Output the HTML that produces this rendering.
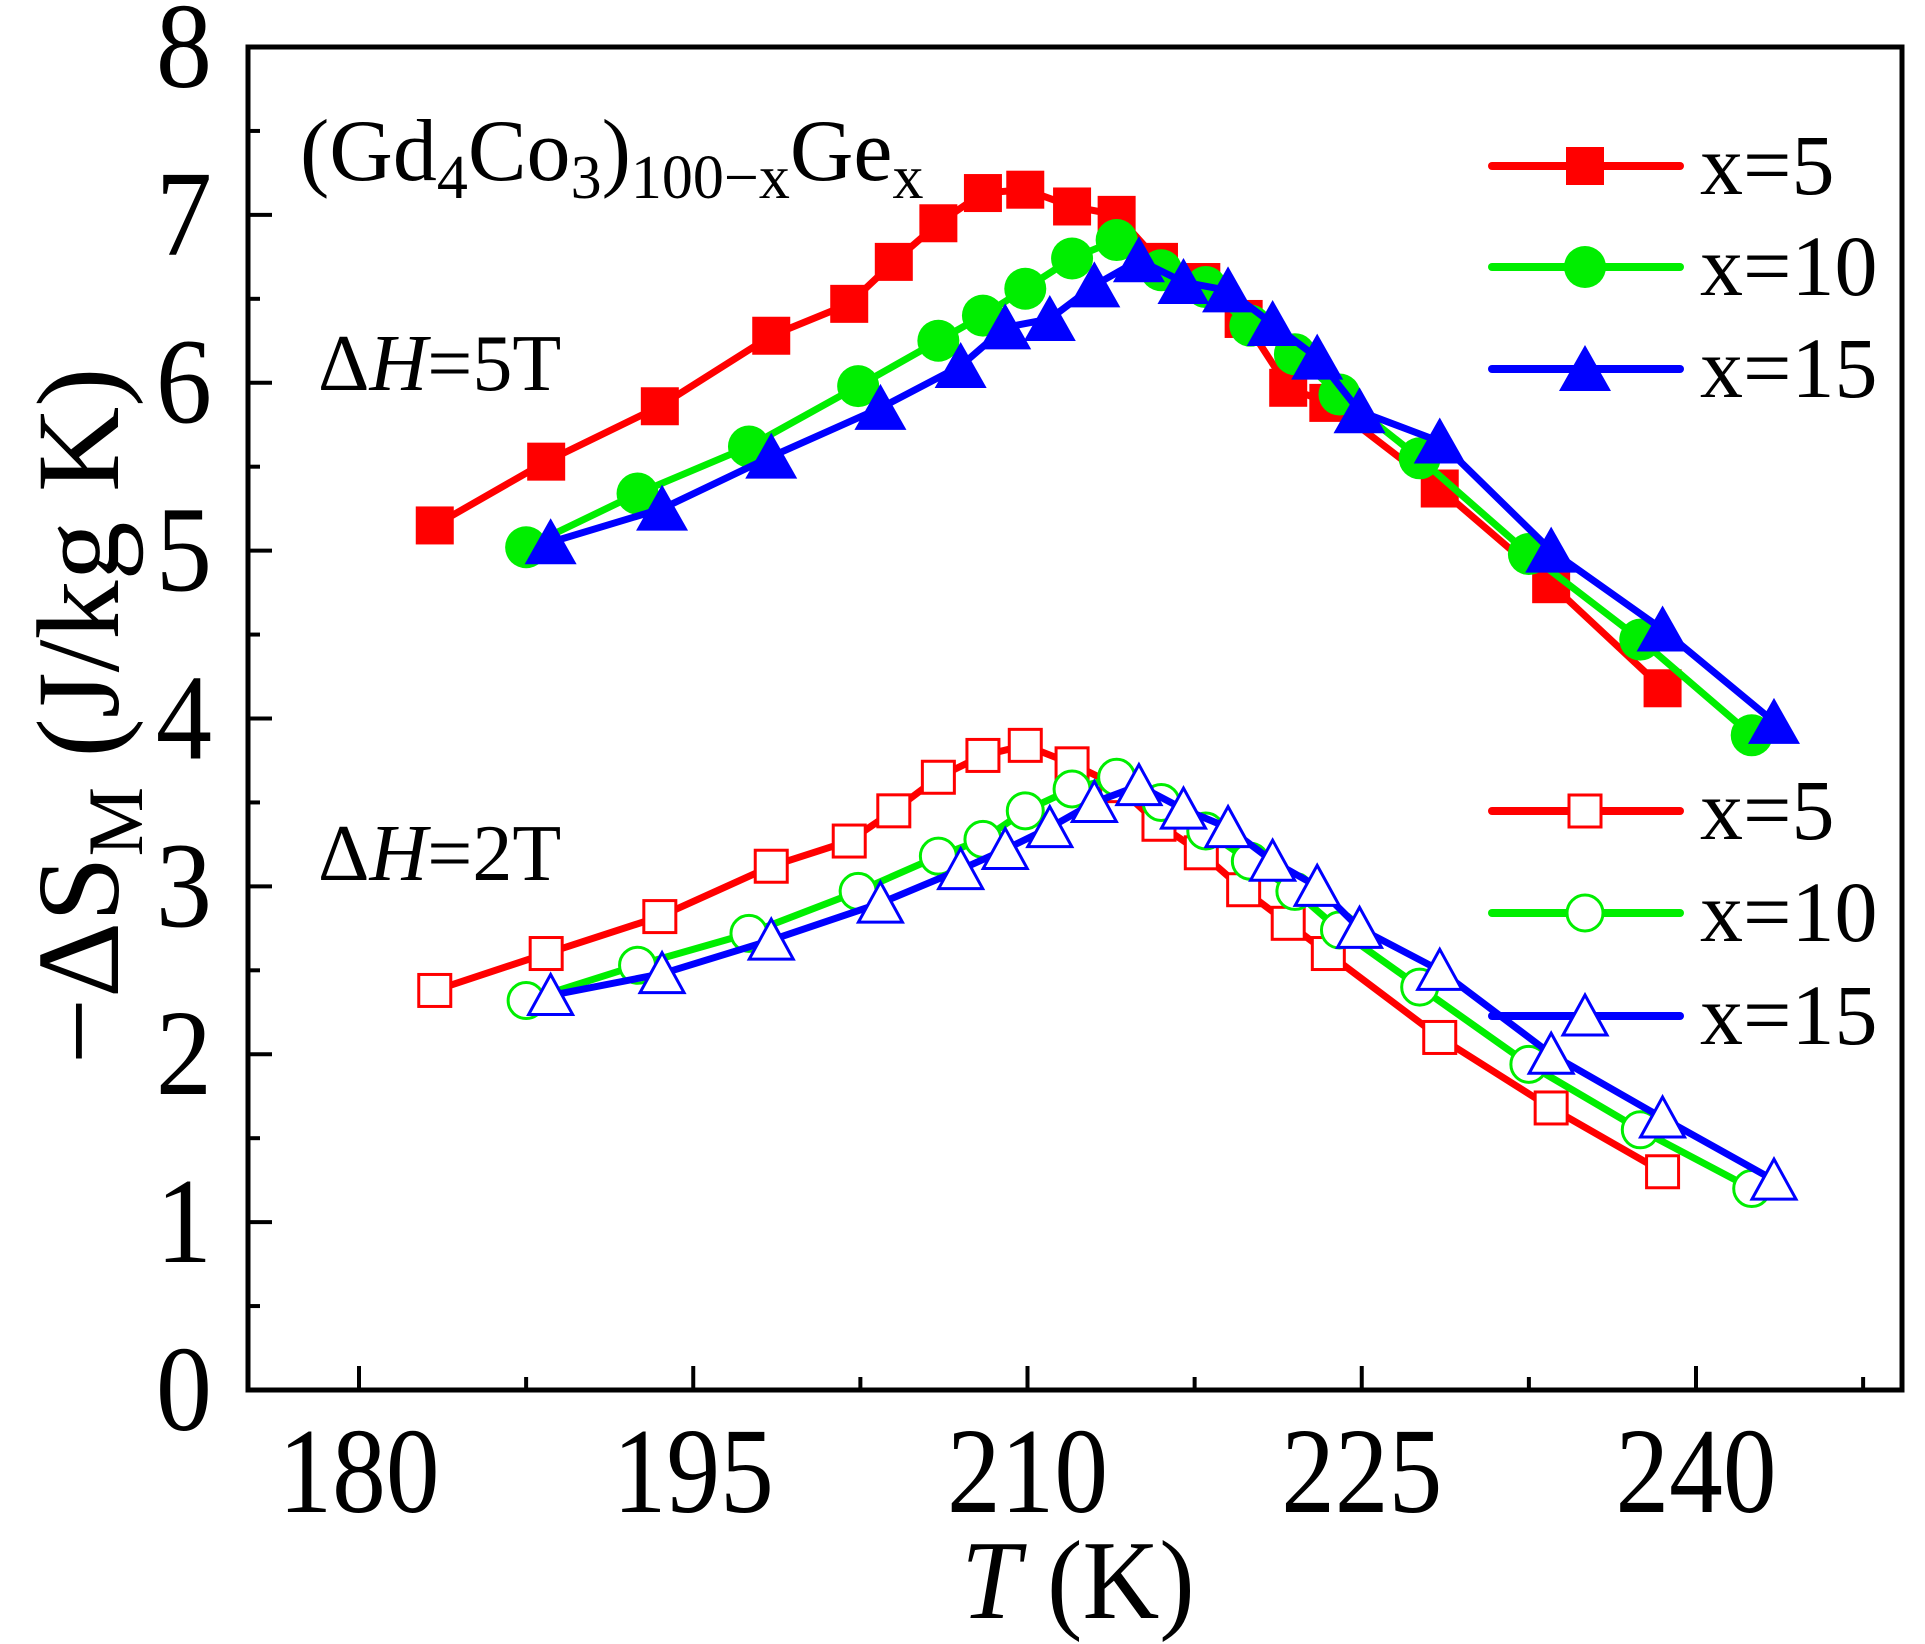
<!DOCTYPE html>
<html><head><meta charset="utf-8"><style>
html,body{margin:0;padding:0;background:#fff}
svg{display:block;font-family:"Liberation Serif","DejaVu Serif",serif}
</style></head><body>
<svg id="chart" width="1925" height="1644" viewBox="0 0 1925 1644" xmlns="http://www.w3.org/2000/svg">
<g id="axes"></g>
<g id="series"></g>
<g id="legend"></g>
<text x="300" y="180" font-size="88">(Gd<tspan font-size="62" dy="18">4</tspan><tspan dy="-18">Co</tspan><tspan font-size="62" dy="18">3</tspan><tspan dy="-18">)</tspan><tspan font-size="62" dy="18">100−x</tspan><tspan dy="-18">Ge</tspan><tspan font-size="62" dy="18">x</tspan></text>
<text x="318" y="390" font-size="80">Δ<tspan font-style="italic">H</tspan>=5T</text>
<text x="318" y="880" font-size="80">Δ<tspan font-style="italic">H</tspan>=2T</text>
<text x="1078" y="1618" font-size="112" text-anchor="middle" transform="translate(1078 0) scale(0.95 1) translate(-1078 0)"><tspan font-style="italic">T</tspan> (K)</text>
<text transform="translate(118 716) rotate(-90)" font-size="118" text-anchor="middle">−ΔS<tspan font-size="78" dy="24">M</tspan><tspan dy="-24"> (J/kg K)</tspan></text>
</svg>
<script>
const tempsA = [183.4,188.4,193.5,198.5,202,204,206,208,209.9,212,214,215.9,217.8,219.7,221.7,223.5,228.5,233.5,238.5];
const tempsB = [187.5,192.5,197.5,202.4,206,208,209.9,212,214,216,218,220,222,224,227.6,232.5,237.5,242.5];
const tempsC = [188.6,193.6,198.5,203.4,207,209,211,213,215,217,219,221,223,224.9,228.5,233.5,238.5,243.5];
const x5_5T = [5.15,5.53,5.86,6.28,6.47,6.72,6.95,7.13,7.15,7.05,7.0,6.72,6.6,6.38,5.97,5.88,5.37,4.8,4.18];
const x10_5T = [5.02,5.34,5.62,5.98,6.25,6.4,6.56,6.74,6.85,6.67,6.57,6.34,6.17,5.93,5.55,4.98,4.47,3.9];
const x15_5T = [5.05,5.25,5.56,5.85,6.1,6.33,6.38,6.58,6.73,6.6,6.55,6.35,6.15,5.83,5.65,5.0,4.53,3.98];
const x5_2T = [2.38,2.6,2.82,3.12,3.27,3.45,3.65,3.78,3.84,3.73,3.6,3.37,3.2,2.98,2.78,2.6,2.1,1.68,1.3];
const x10_2T = [2.32,2.53,2.72,2.97,3.18,3.28,3.45,3.58,3.65,3.5,3.33,3.15,2.97,2.74,2.4,1.94,1.55,1.2];
const x15_2T = [2.35,2.48,2.68,2.9,3.1,3.22,3.35,3.5,3.6,3.46,3.35,3.15,3.0,2.75,2.5,2.0,1.62,1.25];
const xTicks = [180,195,210,225,240];
const xMinor = [187.5,202.5,217.5,232.5,247.5];
const yTicks = [0,1,2,3,4,5,6,7,8];
const yMinor = [0.5,1.5,2.5,3.5,4.5,5.5,6.5,7.5];
const legendLabels = ["x=5","x=10","x=15","x=5","x=10","x=15"];

const NS="http://www.w3.org/2000/svg";
const L=248,R=1902,T=47,B=1390;
function X(t){return 359+(t-180)*(1696-359)/60;}
function Y(v){return B-(v)*(B-T)/8;}
function mk(tag,attrs,parent){const e=document.createElementNS(NS,tag);for(const k in attrs)e.setAttribute(k,attrs[k]);parent.appendChild(e);return e;}
const axes=document.getElementById('axes'),ser=document.getElementById('series'),leg=document.getElementById('legend');

const frame=mk('rect',{x:L,y:T,width:R-L,height:B-T,fill:'none',stroke:'#000','stroke-width':5},axes);


xTicks.forEach(t=>{
  const tk=mk('line',{x1:X(t),x2:X(t),y1:B,y2:B-24,stroke:'#000','stroke-width':4},axes);
  
  
  const lb=mk('text',{x:X(t),y:1512,'font-size':122,'text-anchor':'middle',transform:`translate(${X(t)} 0) scale(0.88 1) translate(${-X(t)} 0)`},axes);
  lb.textContent=t;
  
  
});
xMinor.forEach(t=>{
  const tk=mk('line',{x1:X(t),x2:X(t),y1:B,y2:B-13,stroke:'#000','stroke-width':4},axes);
  
  
});
yTicks.forEach(v=>{
  const tk=mk('line',{x1:L,x2:L+24,y1:Y(v),y2:Y(v),stroke:'#000','stroke-width':4},axes);
  
  
  const lb=mk('text',{x:212,y:Y(v)+40,'font-size':122,'text-anchor':'end',transform:`translate(212 0) scale(0.92 1) translate(-212 0)`},axes);
  lb.textContent=v;
  
  
});
yMinor.forEach(v=>{
  const tk=mk('line',{x1:L,x2:L+12,y1:Y(v),y2:Y(v),stroke:'#000','stroke-width':4},axes);
  
  
});

function marker(shape,cx,cy,color,filled,parent){
  const fill=filled?color:'#fff', sw=filled?0:3;
  let e;
  if(shape==='sq'){const s=filled?38:32;e=mk('rect',{x:cx-s/2,y:cy-s/2,width:s,height:s,fill,stroke:color,'stroke-width':sw},parent);}
  else if(shape==='ci'){const r=filled?21:18;e=mk('circle',{cx,cy,r,fill,stroke:color,'stroke-width':sw},parent);}
  else {const w=filled?26:22,h=filled?24:21;e=mk('polygon',{points:`${cx},${cy-h} ${cx+w},${cy+h-2} ${cx-w},${cy+h-2}`,fill,stroke:color,'stroke-width':sw},parent);}
  return e;
}
const seriesDefs=[
 [tempsA,x5_5T,'#ff0000','sq',true,'x5-5t'],
 [tempsB,x10_5T,'#00ee00','ci',true,'x10-5t'],
 [tempsC,x15_5T,'#0000ff','tr',true,'x15-5t'],
 [tempsA,x5_2T,'#ff0000','sq',false,'x5-2t'],
 [tempsB,x10_2T,'#00ee00','ci',false,'x10-2t'],
 [tempsC,x15_2T,'#0000ff','tr',false,'x15-2t']];
seriesDefs.forEach(([ts,vs,c,sh,f,nm])=>{
  const g=mk('g',{},ser);
  
  
  const pl=mk('polyline',{points:ts.map((t,i)=>X(t)+','+Y(vs[i])).join(' '),fill:'none',stroke:c,'stroke-width':7,'stroke-linejoin':'round'},g);
  
  
  ts.forEach((t,i)=>{
    const m=marker(sh,X(t),Y(vs[i]),c,f,g);
    
    
  });
});
const legY=[166,267,369,811,913,1016];
seriesDefs.forEach(([ts,vs,c,sh,f,nm],i)=>{
  const g=mk('g',{},leg);
  
  
  mk('line',{x1:1492,x2:1680,y1:legY[i],y2:legY[i],stroke:c,'stroke-width':8,'stroke-linecap':'round'},g);
  marker(sh,1585,legY[i],c,f,g);
  const tx=mk('text',{x:1700,y:legY[i]+28,'font-size':86},g);
  tx.textContent=legendLabels[i];
});
</script>
</body></html>
